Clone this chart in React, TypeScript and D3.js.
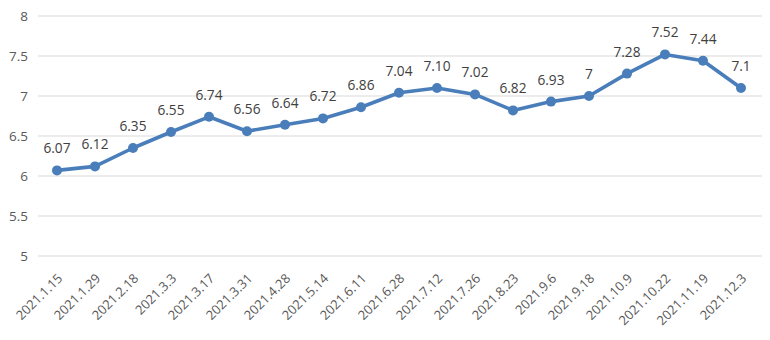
import React from "react";
import * as d3 from "d3";

const categories = ["2021.1.15","2021.1.29","2021.2.18","2021.3.3","2021.3.17","2021.3.31","2021.4.28","2021.5.14","2021.6.11","2021.6.28","2021.7.12","2021.7.26","2021.8.23","2021.9.6","2021.9.18","2021.10.9","2021.10.22","2021.11.19","2021.12.3"];
const values = [6.07,6.12,6.35,6.55,6.74,6.56,6.64,6.72,6.86,7.04,7.10,7.02,6.82,6.93,7,7.28,7.52,7.44,7.1];
const valueLabels = ["6.07","6.12","6.35","6.55","6.74","6.56","6.64","6.72","6.86","7.04","7.10","7.02","6.82","6.93","7","7.28","7.52","7.44","7.1"];
const yTicks = [5,5.5,6,6.5,7,7.5,8];

export default function App() {
  const W = 770, H = 340;
  const x = d3.scaleBand<string>().domain(categories).range([38, 760]);
  const y = d3.scaleLinear().domain([5, 8]).range([256, 16]);
  const cx = (c: string) => (x(c) as number) + x.bandwidth() / 2;
  const line = d3.line<number>().x((_, i) => cx(categories[i])).y(d => y(d));
  const font = "'Open Sans', sans-serif";
  return (
    <svg width={W} height={H} style={{ position: "absolute", left: 0, top: 0, fontFamily: font }}>
      <rect width={W} height={H} fill="#fff" />
      {yTicks.map(t => (
        <g key={t}>
          <line x1={38} x2={762} y1={y(t)} y2={y(t)} stroke="#d9d9d9" strokeWidth={1} />
          <text x={28} y={y(t)} dy="0.35em" textAnchor="end" fontSize={13.5} fill="#595959">{t}</text>
        </g>
      ))}
      <path d={line(values) || ""} fill="none" stroke="#4a7ebb" strokeWidth={3.6} strokeLinejoin="round" />
      {values.map((v, i) => (
        <circle key={i} cx={cx(categories[i])} cy={y(v)} r={5} fill="#4a7ebb" />
      ))}
      {values.map((v, i) => (
        <text key={"l" + i} x={cx(categories[i])} y={y(v) - 17} textAnchor="middle" fontSize={13.7} fill="#404040">{valueLabels[i]}</text>
      ))}
      {categories.map(c => (
        <text key={c} transform={`translate(${cx(c) + 3},${276}) rotate(-45)`} textAnchor="end" dy="0.35em" fontSize={13} fill="#595959">{c}</text>
      ))}
    </svg>
  );
}
